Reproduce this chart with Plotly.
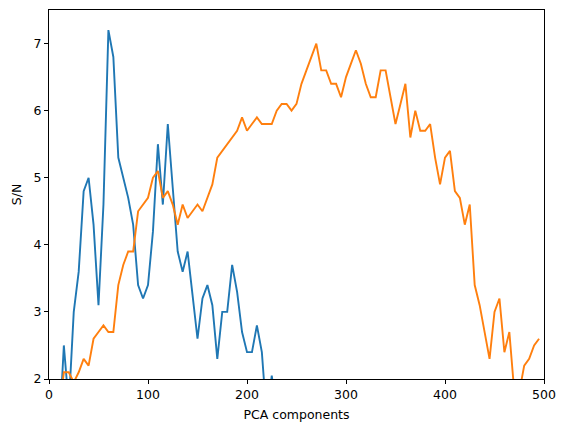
import plotly.graph_objects as go

# number of PCA components tried
components_blue = list(range(10, 235, 5))
components_orange = list(range(10, 500, 5))

sn_blue = [
    1.1, 2.5, 1.6, 3.0, 3.6, 4.8, 5.0, 4.3, 3.1, 4.6,
    7.2, 6.8, 5.3, 5.0, 4.7, 4.3, 3.4, 3.2, 3.4, 4.2,
    5.5, 4.6, 5.8, 4.85, 3.9, 3.6, 3.9, 3.25, 2.6, 3.2,
    3.4, 3.1, 2.3, 3.0, 3.0, 3.7, 3.3, 2.7, 2.4, 2.4,
    2.8, 2.4, 1.4, 2.05, 1.5,
]

sn_orange = [
    1.5, 2.1, 2.1, 1.95, 2.1, 2.3, 2.2, 2.6, 2.7, 2.8,
    2.7, 2.7, 3.4, 3.7, 3.9, 3.9, 4.5, 4.6, 4.7, 5.0,
    5.1, 4.7, 4.8, 4.6, 4.3, 4.6, 4.4, 4.5, 4.6, 4.5,
    4.7, 4.9, 5.3, 5.4, 5.5, 5.6, 5.7, 5.9, 5.7, 5.8,
    5.9, 5.8, 5.8, 5.8, 6.0, 6.1, 6.1, 6.0, 6.1, 6.4,
    6.6, 6.8, 7.0, 6.6, 6.6, 6.4, 6.4, 6.2, 6.5, 6.7,
    6.9, 6.7, 6.4, 6.2, 6.2, 6.6, 6.6, 6.2, 5.8, 6.1,
    6.4, 5.6, 6.0, 5.7, 5.7, 5.8, 5.3, 4.9, 5.3, 5.4,
    4.8, 4.7, 4.3, 4.6, 3.4, 3.1, 2.7, 2.3, 3.0, 3.2,
    2.4, 2.7, 1.8, 1.8, 2.2, 2.3, 2.5, 2.6,
]

fig = go.Figure()
fig.add_trace(go.Scatter(x=components_blue, y=sn_blue, mode="lines",
                         line=dict(color="#1f77b4", width=1.9)))
fig.add_trace(go.Scatter(x=components_orange, y=sn_orange, mode="lines",
                         line=dict(color="#ff7f0e", width=1.9)))

axis_style = dict(
    showgrid=False,
    zeroline=False,
    showline=True,
    linecolor="black",
    linewidth=1,
    mirror=True,
    ticks="outside",
    ticklen=4,
    tickwidth=1,
    tickcolor="black",
    tickfont=dict(size=12.5, color="black"),
)

# the page body adds an 8px margin, so the figure is a bit smaller than the window
fig.update_layout(
    width=559,
    height=424,
    paper_bgcolor="white",
    plot_bgcolor="white",
    showlegend=False,
    font=dict(family="DejaVu Sans", size=12.5, color="black"),
    margin=dict(l=41, r=23, t=2, b=53),
)
fig.update_xaxes(range=[0, 500], tickvals=[0, 100, 200, 300, 400, 500],
                 title=dict(text="PCA components", standoff=9,
                            font=dict(size=12.5, color="black")),
                 **axis_style)
fig.update_yaxes(range=[2, 7.5], tickvals=[2, 3, 4, 5, 6, 7],
                 title=dict(text="S/N", standoff=9,
                            font=dict(size=12.5, color="black")),
                 **axis_style)

fig.write_html("out.html")
